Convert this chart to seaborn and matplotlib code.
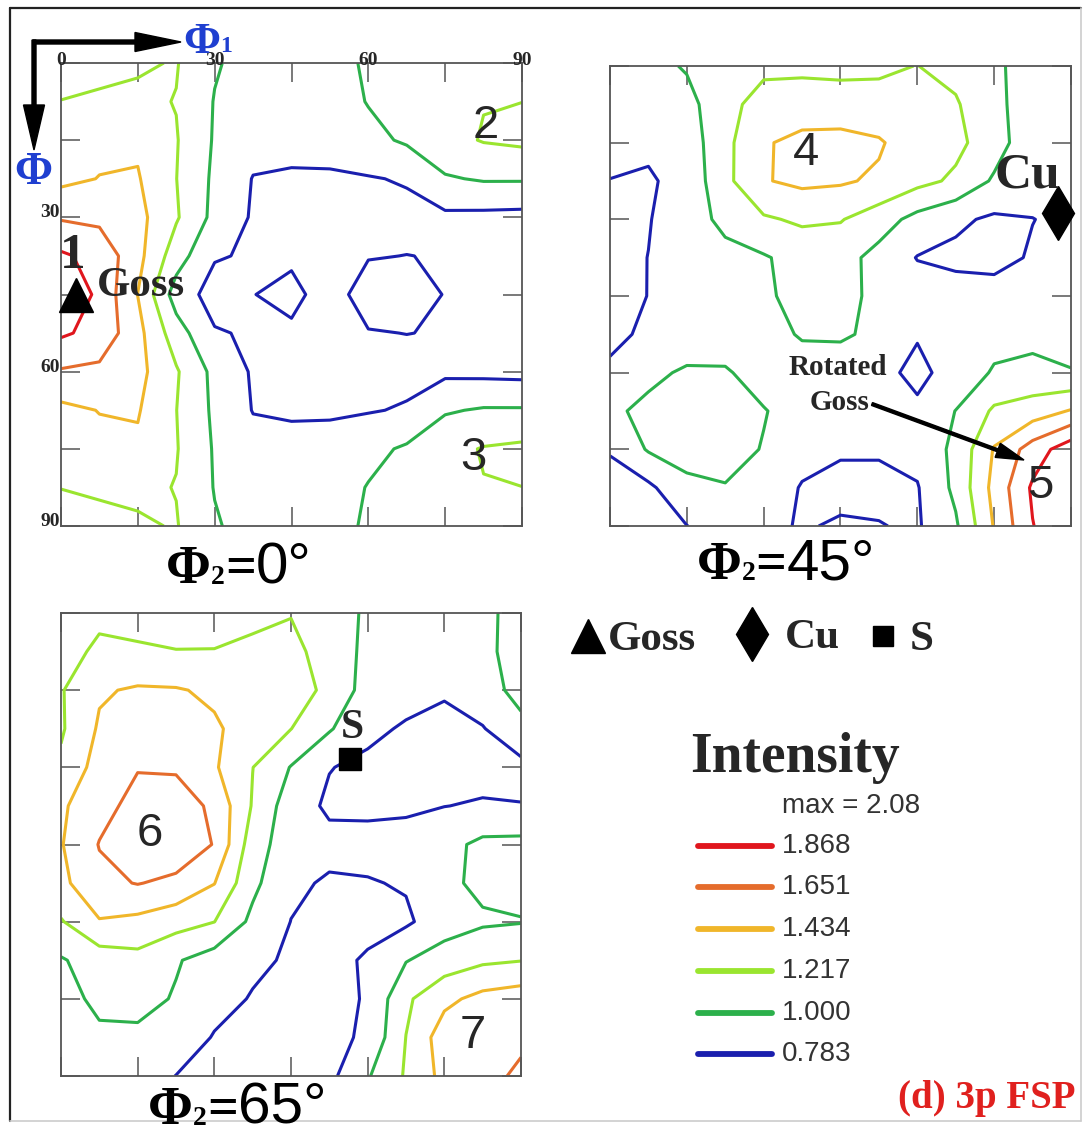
import numpy as np
import pandas as pd
import matplotlib
matplotlib.use("Agg")
import matplotlib.pyplot as plt
import seaborn as sns

# ---------------------------------------------------------------- data
# ODF sections: rows are Phi = 0..90, columns are phi1 = 0..90 (7.5 deg grid)
GRID_DEG = [0, 7.5, 15, 22.5, 30, 37.5, 45, 52.5, 60, 67.5, 75, 82.5, 90]
TICKS_DEG = [0, 15, 30, 45, 60, 75, 90]
TOP_TICK_LABELS = [0, 30, 60, 90]
LEFT_TICK_LABELS = [30, 60, 90]

LEVELS = [0.783, 1.000, 1.217, 1.434, 1.651, 1.868]
LEVEL_TEXT = ["0.783", "1.000", "1.217", "1.434", "1.651", "1.868"]
LEVEL_COLORS = ["#1a1fae", "#2cb04b", "#9ae52f", "#f0b62a", "#e56c2c", "#e0161d"]
MAX_TEXT = "max = 2.08"

ODF_PHI2_0 = [
    [1.15, 1.17, 1.19, 1.23, 1.02, 0.92, 0.88, 0.92, 1.03, 1.15, 1.19, 1.17, 1.15],
    [1.22, 1.24, 1.26, 1.21, 0.99, 0.90, 0.87, 0.90, 1.01, 1.10, 1.18, 1.21, 1.216],
    [1.33, 1.38, 1.40, 1.23, 0.98, 0.86, 0.84, 0.85, 0.94, 1.03, 1.15, 1.23, 1.26],
    [1.38, 1.44, 1.45, 1.22, 0.96, 0.775, 0.76, 0.76, 0.77, 0.80, 0.98, 1.02, 1.02],
    [1.63, 1.60, 1.50, 1.24, 0.94, 0.76, 0.72, 0.72, 0.72, 0.73, 0.74, 0.73, 0.72],
    [1.90, 1.80, 1.50, 1.10, 0.80, 0.76, 0.76, 0.74, 0.775, 0.785, 0.775, 0.75, 0.74],
    [2.08, 1.815, 1.43, 0.90, 0.70, 0.78, 0.82, 0.72, 0.85, 0.87, 0.775, 0.75, 0.74],
    [1.90, 1.80, 1.50, 1.10, 0.80, 0.76, 0.76, 0.74, 0.775, 0.785, 0.775, 0.75, 0.74],
    [1.63, 1.60, 1.50, 1.24, 0.94, 0.76, 0.72, 0.72, 0.72, 0.73, 0.74, 0.73, 0.72],
    [1.38, 1.44, 1.45, 1.22, 0.96, 0.775, 0.76, 0.76, 0.77, 0.80, 0.98, 1.02, 1.02],
    [1.33, 1.38, 1.40, 1.23, 0.98, 0.86, 0.84, 0.85, 0.94, 1.03, 1.15, 1.23, 1.26],
    [1.22, 1.24, 1.26, 1.21, 0.99, 0.90, 0.87, 0.90, 1.01, 1.10, 1.18, 1.21, 1.216],
    [1.15, 1.17, 1.19, 1.23, 1.02, 0.92, 0.88, 0.92, 1.03, 1.15, 1.19, 1.17, 1.15],
]

ODF_PHI2_45 = [
    [0.90, 0.93, 1.02, 1.10, 1.17, 1.18, 1.18, 1.19, 1.22, 1.15, 1.05, 0.88, 0.85],
    [0.85, 0.88, 0.93, 1.15, 1.30, 1.30, 1.28, 1.27, 1.26, 1.24, 1.04, 0.92, 0.88],
    [0.83, 0.82, 0.88, 1.16, 1.41, 1.50, 1.52, 1.46, 1.30, 1.27, 1.10, 0.85, 0.82],
    [0.78, 0.76, 0.85, 1.16, 1.42, 1.48, 1.46, 1.40, 1.28, 1.18, 0.97, 0.85, 0.82],
    [0.74, 0.775, 0.87, 1.07, 1.19, 1.25, 1.23, 1.10, 0.93, 0.82, 0.75, 0.78, 0.82],
    [0.73, 0.785, 0.86, 0.92, 0.98, 1.08, 1.08, 0.93, 0.775, 0.74, 0.73, 0.80, 0.84],
    [0.74, 0.785, 0.85, 0.90, 0.97, 1.06, 1.05, 0.96, 0.88, 0.86, 0.85, 0.86, 0.88],
    [0.76, 0.80, 0.87, 0.90, 0.92, 1.02, 1.03, 0.95, 0.79, 0.85, 0.90, 0.94, 0.93],
    [0.80, 0.95, 1.03, 1.02, 0.92, 0.90, 0.88, 0.81, 0.76, 0.82, 1.03, 1.06, 1.01],
    [0.96, 1.05, 1.10, 1.08, 1.01, 0.92, 0.88, 0.86, 0.80, 1.005, 1.25, 1.32, 1.45],
    [0.80, 1.02, 1.08, 1.07, 0.99, 0.85, 0.80, 0.80, 0.85, 1.05, 1.45, 1.75, 2.00],
    [0.70, 0.74, 0.95, 0.99, 0.90, 0.77, 0.74, 0.74, 0.77, 1.05, 1.50, 1.90, 2.05],
    [0.68, 0.70, 0.78, 0.86, 0.82, 0.77, 0.80, 0.79, 0.76, 0.97, 1.45, 1.86, 2.06],
]

ODF_PHI2_65 = [
    [1.15, 1.19, 1.18, 1.17, 1.18, 1.19, 1.21, 1.10, 0.97, 0.92, 0.93, 0.98, 1.03],
    [1.17, 1.24, 1.23, 1.22, 1.22, 1.24, 1.26, 1.15, 0.94, 0.90, 0.88, 0.97, 1.05],
    [1.20, 1.41, 1.46, 1.45, 1.40, 1.30, 1.27, 1.19, 0.90, 0.86, 0.80, 0.92, 1.06],
    [1.19, 1.46, 1.55, 1.58, 1.46, 1.35, 1.22, 1.02, 0.83, 0.76, 0.74, 0.77, 0.95],
    [1.26, 1.52, 1.64, 1.62, 1.46, 1.22, 0.99, 0.79, 0.74, 0.72, 0.72, 0.72, 0.72],
    [1.40, 1.58, 1.72, 1.78, 1.60, 1.20, 0.88, 0.75, 0.74, 0.75, 0.78, 0.80, 0.79],
    [1.42, 1.66, 1.78, 1.80, 1.64, 1.10, 0.88, 0.84, 0.85, 0.86, 0.93, 1.05, 1.06],
    [1.38, 1.60, 1.66, 1.60, 1.44, 1.05, 0.82, 0.76, 0.77, 0.80, 0.95, 1.05, 1.07],
    [1.20, 1.42, 1.38, 1.30, 1.22, 0.95, 0.78, 0.74, 0.74, 0.75, 0.90, 0.97, 0.99],
    [0.98, 1.10, 1.15, 1.02, 0.90, 0.82, 0.76, 0.74, 0.80, 0.99, 1.10, 1.18, 1.21],
    [0.92, 1.05, 1.08, 0.98, 0.85, 0.77, 0.72, 0.72, 0.80, 1.18, 1.38, 1.50, 1.55],
    [0.90, 0.96, 0.95, 0.90, 0.77, 0.72, 0.71, 0.72, 0.82, 1.22, 1.55, 1.60, 1.62],
    [0.88, 0.90, 0.88, 0.78, 0.72, 0.70, 0.70, 0.73, 0.98, 1.24, 1.50, 1.60, 1.68],
]

# ideal orientations (phi1, Phi) in degrees
GOSS_MARK = (3.0, 45.0)
CU_MARK = (87.5, 28.8)
S_MARK = (56.5, 28.4)

# ---------------------------------------------------------------- style
W, H = 1083, 1126
sns.set_theme(style="white")
plt.rcParams["font.family"] = ["Liberation Sans", "DejaVu Sans"]
SERIF = ["Liberation Serif", "DejaVu Serif"]
SANS = ["Liberation Sans", "DejaVu Sans"]
AXIS_BLUE = "#1f3fd0"
FRAME_GREY = "#555555"

fig = plt.figure(figsize=(W / 100, H / 100), dpi=100)
fig.patch.set_facecolor("white")


def px_box(x0, y0, x1, y1):
    return [x0 / W, 1 - y1 / H, (x1 - x0) / W, (y1 - y0) / H]


def odf_panel(box, field):
    ax = fig.add_axes(px_box(*box))
    X, Y = np.meshgrid(GRID_DEG, GRID_DEG)
    ax.contour(X, Y, np.asarray(field), levels=LEVELS, colors=LEVEL_COLORS,
               linewidths=2.2)
    ax.set_xlim(0, 90)
    ax.set_ylim(90, 0)
    ax.set_xticks(TICKS_DEG)
    ax.set_yticks(TICKS_DEG)
    ax.tick_params(which="both", direction="in", length=14, width=1.1,
                   color=FRAME_GREY, top=True, right=True, bottom=True, left=True,
                   labelbottom=False, labelleft=False, labeltop=False, labelright=False)
    for sp in ax.spines.values():
        sp.set_color(FRAME_GREY)
        sp.set_linewidth(1.3)
    ax.set_facecolor("none")
    return ax


ax0 = odf_panel((61, 63, 522, 526), ODF_PHI2_0)
ax45 = odf_panel((610, 66, 1071, 526), ODF_PHI2_45)
ax65 = odf_panel((61, 613, 521, 1076), ODF_PHI2_65)

# degree labels on the first section only
for v in TOP_TICK_LABELS:
    ax0.annotate(str(v), (v, 0), xytext=(0, -1.5), textcoords="offset points",
                 ha="center", va="baseline", family=SERIF, weight="bold", size=14)
for v in LEFT_TICK_LABELS:
    ax0.annotate(str(v), (0, v), xytext=(-1, 0), textcoords="offset points",
                 ha="right", va="baseline", family=SERIF, weight="bold", size=14)

# ideal orientation markers
ax0.plot(*GOSS_MARK, marker="^", ms=25, color="black", clip_on=False, zorder=5)
ax45.plot(*CU_MARK, marker="d", ms=27, color="black", clip_on=False, zorder=5)
ax65.plot(*S_MARK, marker="s", ms=16, color="black", clip_on=False, zorder=5)

# ---------------------------------------------------------------- overlay
over = fig.add_axes([0, 0, 1, 1])
over.set_xlim(0, W)
over.set_ylim(H, 0)
over.axis("off")
over.patch.set_alpha(0)

# outer frame
over.plot([10, 10], [8, 1121], color="#222222", lw=1.6)
over.plot([10, 1081], [8, 8], color="#222222", lw=1.6)
over.plot([1081, 1081], [8, 1121], color="#cccccc", lw=1.2)
over.plot([10, 1081], [1121, 1121], color="#cccccc", lw=1.2)

renderer = fig.canvas.get_renderer()


def place_runs(x, y, runs):
    for s, fam, size, weight, dy, color in runs:
        t = over.text(x, y + dy, s, family=fam, size=size, weight=weight,
                      ha="left", va="baseline", color=color)
        x += t.get_window_extent(renderer=renderer).width


def section_label(x, y, angle):
    place_runs(x, y, [
        ("Φ", SERIF, 39, "bold", 0, "black"),
        ("2", SERIF, 20, "bold", 1, "black"),
        ("=", SERIF, 39, "bold", 0, "black"),
        (f"{angle}°", SANS, 42, "normal", 0, "black"),
    ])


section_label(166, 583, 0)
section_label(697, 579, 45)
section_label(148, 1124, 65)

# Euler angle axes arrows
over.arrow(33, 42, 148, 0, width=4, head_width=19, head_length=46,
           length_includes_head=True, color="black", zorder=6)
over.arrow(34, 40, 0, 110, width=4, head_width=21, head_length=45,
           length_includes_head=True, color="black", zorder=6)
place_runs(183, 53, [("Φ", SERIF, 32, "bold", 0, AXIS_BLUE),
                     ("1", SERIF, 17, "bold", -1, AXIS_BLUE)])
over.text(14, 184, "Φ", family=SERIF, size=33, weight="bold", color=AXIS_BLUE,
          ha="left", va="baseline")

# peak numbers
for s, x, y in [("2", 486, 138), ("3", 473, 470), ("4", 806, 165),
                ("5", 1040, 498), ("6", 150, 846), ("7", 473, 1048)]:
    over.text(x, y, s, family=SANS, size=34, ha="center", va="baseline")
over.text(73, 268, "1", family=SERIF, size=37, weight="bold", ha="center", va="baseline")
over.text(97, 296, "Goss", family=SERIF, size=31, weight="bold", ha="left", va="baseline")
over.text(1027, 187, "Cu", family=SERIF, size=37, weight="bold", ha="center", va="baseline")
over.text(352, 738, "S", family=SERIF, size=30, weight="bold", ha="center", va="baseline")
over.text(838, 375, "Rotated", family=SERIF, size=21, weight="bold", ha="center", va="baseline")
over.text(840, 410, "Goss", family=SERIF, size=21, weight="bold", ha="center", va="baseline")
over.arrow(872, 404, 152, 56, width=3, head_width=15, head_length=28,
           length_includes_head=True, color="black", zorder=6)

# symbol key
over.plot(588, 636, marker="^", ms=25, color="black")
over.text(608, 650, "Goss", family=SERIF, size=31, weight="bold", ha="left", va="baseline")
over.plot(752, 634, marker="d", ms=27, color="black")
over.text(785, 648, "Cu", family=SERIF, size=31, weight="bold", ha="left", va="baseline")
over.plot(883, 636, marker="s", ms=15, color="black")
over.text(910, 650, "S", family=SERIF, size=31, weight="bold", ha="left", va="baseline")

# intensity key
over.text(690, 772, "Intensity", family=SERIF, size=40, weight="bold", ha="left", va="baseline")
over.text(782, 813, MAX_TEXT, family=SANS, size=20, color="#333333", ha="left", va="baseline")
key_rows = [1054, 1013, 971, 929, 887, 846]
key_df = pd.DataFrame({
    "x": [698, 772] * len(LEVEL_TEXT),
    "y": [y for y in key_rows for _ in range(2)],
    "level": [t for t in LEVEL_TEXT for _ in range(2)],
})
sns.lineplot(data=key_df, x="x", y="y", hue="level",
             palette=dict(zip(LEVEL_TEXT, LEVEL_COLORS)), linewidth=4.2,
             estimator=None, sort=False, legend=False, ax=over,
             solid_capstyle="round")
over.set_xlim(0, W)
over.set_ylim(H, 0)
over.axis("off")
for txt, y in zip(LEVEL_TEXT, key_rows):
    over.text(782, y, txt, family=SANS, size=20, color="#333333", ha="left", va="center")

over.text(1075, 1108, "(d) 3p FSP", family=SERIF, size=28, weight="bold",
          color="#e0201e", ha="right", va="baseline")

fig.savefig("out.png", dpi=100)
